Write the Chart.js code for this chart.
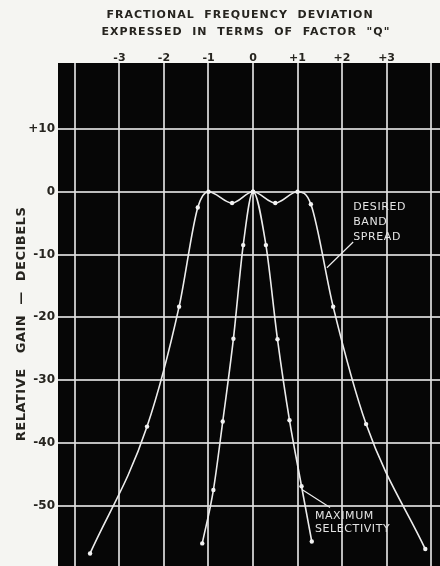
<!DOCTYPE html>
<html>
<head>
<meta charset="utf-8">
<script src="https://cdn.jsdelivr.net/npm/chart.js@4"></script>
<style>
  html, body { margin: 0; padding: 0; background: #f5f5f2; }
  canvas { display: block; }
</style>
</head>
<body>
<canvas id="gainChart" width="440" height="566"></canvas>
<script>
// x = frequency deviation in units of Q, y = relative gain (dB)
const bandX  = [-3.66, -2.38, -1.66, -1.24, -1.0, -0.47, 0.0, 0.5, 1.0, 1.3, 1.8, 2.54, 3.87];
const bandDb = [-57.6, -37.4, -18.3, -2.5, 0.0, -1.8, 0.0, -1.8, 0.0, -2.0, -18.3, -37.0, -56.9];
const selX   = [-1.14, -0.89, -0.68, -0.44, -0.22, 0.0, 0.29, 0.55, 0.82, 1.09, 1.32];
const selDb  = [-56.0, -47.5, -36.6, -23.4, -8.5, 0.0, -8.5, -23.5, -36.4, -46.9, -55.7];

const xTicks = [-4, -3, -2, -1, 0, 1, 2, 3, 4];
const xTickLabels = ['', '-3', '-2', '-1', '0', '+1', '+2', '+3', ''];
const yTicks = [10, 0, -10, -20, -30, -40, -50];
const yTickLabels = ['+10', '0', '-10', '-20', '-30', '-40', '-50'];

const ink = '#26241f';
const gridCol = 'rgba(222,222,222,0.85)';
const curveCol = '#ececec';

function toPoints(xs, ys) {
  return xs.map((x, i) => ({ x: x, y: ys[i] }));
}

// the scan's black panel runs to the right and bottom edges, so drop the label overhang padding
function noOverhang(s) {
  s.paddingTop = 0;
  s.paddingBottom = 0;
  s.paddingLeft = 0;
  s.paddingRight = 0;
}

// paper + black plot area, titles and the two hand-lettered notes
const decor = {
  id: 'decor',
  beforeDraw(chart) {
    const { ctx, chartArea: a } = chart;
    ctx.save();
    ctx.fillStyle = '#f5f5f2';
    ctx.fillRect(0, 0, chart.width, chart.height);
    ctx.fillStyle = '#060606';
    ctx.fillRect(a.left, a.top, a.right - a.left, a.bottom - a.top);
    ctx.restore();
  },
  afterDraw(chart) {
    const { ctx, chartArea: a, scales: { x, y } } = chart;
    ctx.save();
    ctx.fillStyle = ink;
    ctx.textAlign = 'center';
    ctx.textBaseline = 'middle';
    ctx.font = 'bold 11px "DejaVu Sans"';
    ctx.letterSpacing = '1px';
    ctx.fillText('FRACTIONAL  FREQUENCY  DEVIATION', 240, 15);
    ctx.fillText('EXPRESSED  IN  TERMS  OF  FACTOR  "Q"', 246, 32);
    ctx.translate(22, 324);
    ctx.rotate(-Math.PI / 2);
    ctx.font = 'bold 13px "DejaVu Sans"';
    ctx.letterSpacing = '0.5px';
    ctx.fillText('RELATIVE   GAIN  —  DECIBELS', 0, 0);
    ctx.restore();

    ctx.save();
    ctx.beginPath();
    ctx.rect(a.left, a.top, a.right - a.left, a.bottom - a.top);
    ctx.clip();
    ctx.strokeStyle = curveCol;
    ctx.lineWidth = 1.2;
    ctx.beginPath();
    ctx.moveTo(x.getPixelForValue(2.25), y.getPixelForValue(-8));
    ctx.lineTo(x.getPixelForValue(1.66), y.getPixelForValue(-12.1));
    ctx.moveTo(x.getPixelForValue(1.1), y.getPixelForValue(-47.4));
    ctx.lineTo(x.getPixelForValue(1.73), y.getPixelForValue(-50.3));
    ctx.stroke();
    ctx.fillStyle = '#e4e4e4';
    ctx.font = '11px "DejaVu Sans"';
    ctx.letterSpacing = '0.6px';
    ctx.textAlign = 'left';
    ctx.textBaseline = 'middle';
    [['DESIRED', -2.5], ['BAND', -4.8], ['SPREAD', -7.2]].forEach(([t, v]) => {
      ctx.fillText(t, x.getPixelForValue(2.25), y.getPixelForValue(v));
    });
    [['MAXIMUM', -51.6], ['SELECTIVITY', -53.7]].forEach(([t, v]) => {
      ctx.fillText(t, x.getPixelForValue(1.39), y.getPixelForValue(v));
    });
    ctx.restore();
  }
};

const curveStyle = {
  borderColor: curveCol,
  borderWidth: 1.6,
  pointRadius: 2.2,
  pointBackgroundColor: '#f2f2f2',
  pointBorderWidth: 0,
  cubicInterpolationMode: 'monotone',
  fill: false
};

new Chart(document.getElementById('gainChart'), {
  type: 'line',
  data: {
    datasets: [
      Object.assign({ label: 'Desired band spread', data: toPoints(bandX, bandDb) }, curveStyle),
      Object.assign({ label: 'Maximum selectivity', data: toPoints(selX, selDb) }, curveStyle)
    ]
  },
  options: {
    responsive: false,
    animation: false,
    layout: { autoPadding: false, padding: { top: 41, left: 0, right: 0, bottom: 0 } },
    plugins: { legend: { display: false }, tooltip: { enabled: false } },
    scales: {
      x: {
        type: 'linear',
        position: 'top',
        min: -4.38,
        max: 4.2,
        afterBuildTicks: s => { s.ticks = xTicks.map(v => ({ value: v })); },
        afterFit: s => { s.height = 22; noOverhang(s); },
        grid: { color: gridCol, lineWidth: 2, drawTicks: false },
        border: { display: false },
        ticks: {
          padding: -2,
          color: ink,
          autoSkip: false,
          maxRotation: 0,
          font: { family: '"DejaVu Sans"', size: 11, weight: 'bold' },
          callback: (v, i) => xTickLabels[i]
        }
      },
      y: {
        type: 'linear',
        min: -59.6,
        max: 20.5,
        afterBuildTicks: s => { s.ticks = yTicks.map(v => ({ value: v })); },
        afterFit: s => { s.width = 58; noOverhang(s); },
        grid: { color: gridCol, lineWidth: 2, drawTicks: false },
        border: { display: false },
        ticks: {
          padding: 3,
          color: ink,
          autoSkip: false,
          font: { family: '"DejaVu Sans"', size: 12, weight: 'bold' },
          callback: (v, i) => yTickLabels[i]
        }
      }
    }
  },
  plugins: [decor]
});
</script>
</body>
</html>
